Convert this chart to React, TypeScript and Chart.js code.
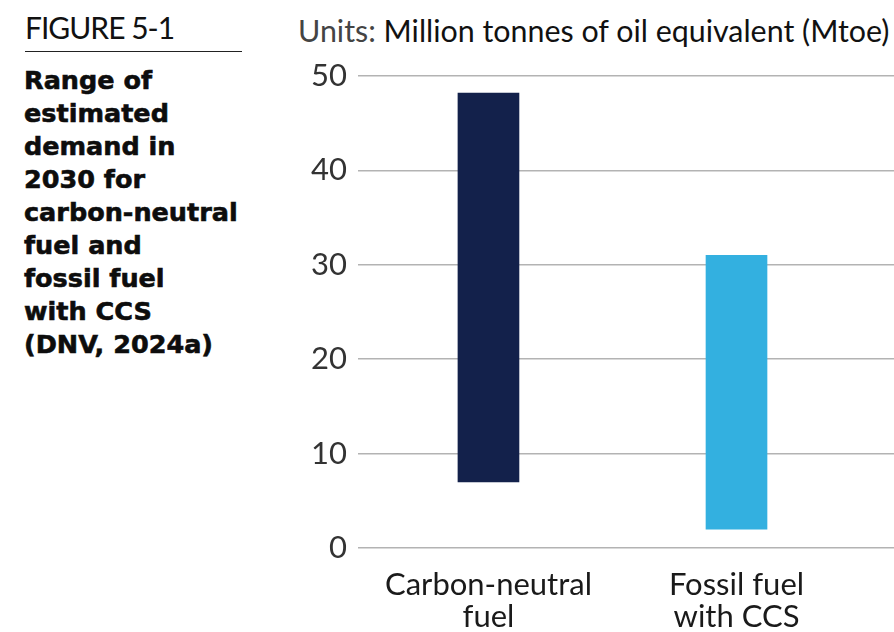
import React, { useEffect, useRef } from "react";
import { Chart, registerables } from "chart.js";
Chart.register(...registerables);

const categories: string[][] = [["Carbon-neutral", "fuel"], ["Fossil fuel", "with CCS"]];
const lowValues = [7, 2];
const highValues = [48.2, 31];
const barColors = ["#13214b", "#33b0e0"];
const yTicks = [0, 10, 20, 30, 40, 50];
const figureLabel = "FIGURE 5-1";
const titleLines = ["Range of", "estimated", "demand in", "2030 for", "carbon-neutral", "fuel and", "fossil fuel", "with CCS", "(DNV, 2024a)"];
const unitsPrefix = "Units: ";
const unitsText = "Million tonnes of oil equivalent (Mtoe)";

const FONT = "Lato, 'Noto Sans', sans-serif";
const BOLD_FONT = "'DejaVu Sans', Lato, sans-serif";

export default function App() {
  const ref = useRef<HTMLCanvasElement>(null);
  useEffect(() => {
    const chart = new Chart(ref.current!, {
      type: "bar",
      data: {
        datasets: [
          {
            data: categories.map((_, i) => ({ x: i, y: [lowValues[i], highValues[i]] })) as any,
            backgroundColor: barColors,
            barThickness: 61,
            borderWidth: 0,
          },
        ],
      },
      options: {
        animation: false,
        responsive: false,
        maintainAspectRatio: false,
        layout: { padding: { top: 16, right: 0, left: 0, bottom: 0 } },
        plugins: { legend: { display: false }, tooltip: { enabled: false } },
        scales: {
          x: {
            type: "linear",
            offset: false,
            min: -0.526,
            max: 1.635,
            grid: { display: false, drawTicks: false, offset: false },
            border: { display: false },
            afterBuildTicks: (axis: any) => {
              axis.ticks = categories.map((_, i) => ({ value: i }));
            },
            afterFit: (axis: any) => {
              axis.height = 84;
              axis.paddingLeft = 0;
              axis.paddingRight = 0;
            },
            ticks: {
              callback: (v: any) => categories[v as number] ?? "",
              font: { family: FONT, size: 31, lineHeight: 1.03 },
              color: "#1a1a1a",
              padding: 21,
              maxRotation: 0,
              autoSkip: false,
            },
          },
          y: {
            min: 0,
            max: 50,
            afterBuildTicks: (axis: any) => {
              axis.ticks = yTicks.map((v) => ({ value: v }));
            },
            afterFit: (axis: any) => {
              axis.width = 58;
              axis.paddingTop = 0;
              axis.paddingBottom = 0;
            },
            grid: { color: "#b3b3b3", lineWidth: 1.5, drawTicks: false },
            border: { display: false },
            ticks: { font: { family: FONT, size: 31 }, color: "#333", padding: 11 },
          },
        },
      },
    });
    return () => chart.destroy();
  }, []);

  return (
    <div style={{ position: "fixed", left: 0, top: 0, width: 894, height: 632, background: "#fff", fontFamily: FONT }}>
      <div style={{ position: "absolute", left: 25, top: 9, fontSize: 30, letterSpacing: -1, color: "#111", lineHeight: "36px", whiteSpace: "nowrap" }}>
        {figureLabel}
      </div>
      <div style={{ position: "absolute", left: 25, top: 51, width: 217, height: 0, borderTop: "1.5px solid #222" }} />
      <div
        style={{
          position: "absolute",
          left: 24,
          top: 64,
          fontFamily: BOLD_FONT,
          fontSize: 25.5,
          fontWeight: 700,
          color: "#0d0d0d",
          lineHeight: "33px",
          whiteSpace: "nowrap",
          WebkitTextStroke: "0.6px #0d0d0d",
        }}
      >
        {titleLines.map((l, i) => (
          <div key={i}>{l}</div>
        ))}
      </div>
      <div style={{ position: "absolute", left: 298, top: 11, fontSize: 30.4, lineHeight: "38px", whiteSpace: "nowrap" }}>
        <span style={{ color: "#444" }}>{unitsPrefix}</span>
        <span style={{ color: "#111" }}>{unitsText}</span>
      </div>
      <canvas ref={ref} width={594} height={572} style={{ position: "absolute", left: 300, top: 60 }} />
    </div>
  );
}
